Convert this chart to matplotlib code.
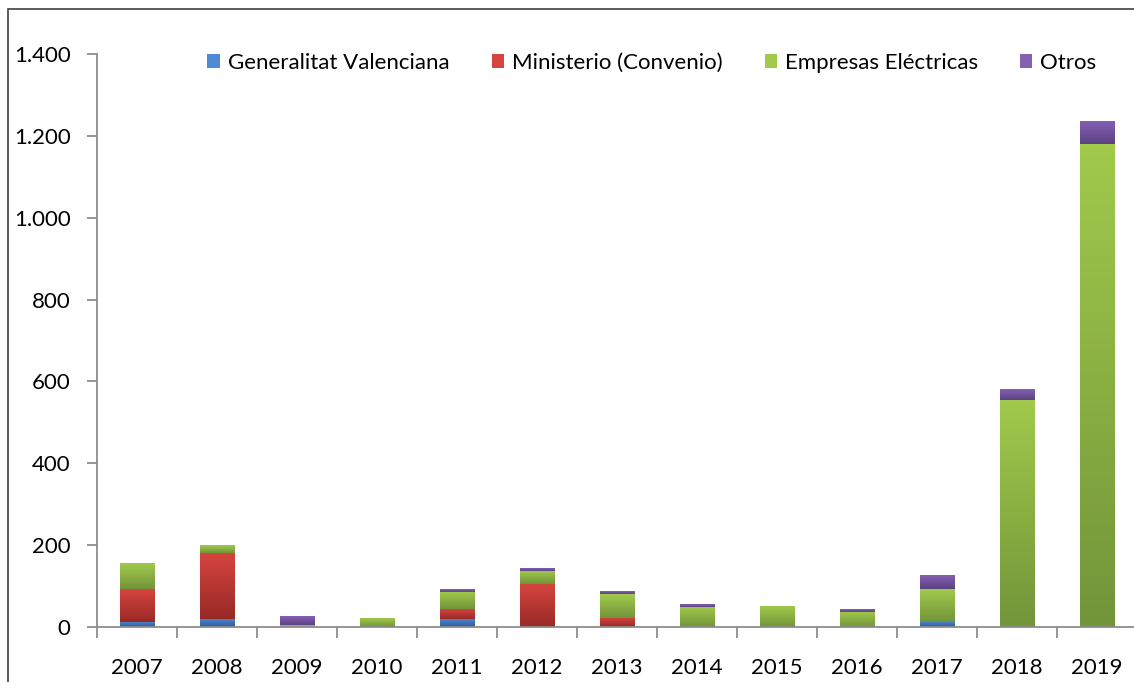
import numpy as np
import matplotlib.pyplot as plt
from matplotlib.colors import LinearSegmentedColormap
from matplotlib.patches import Patch, Rectangle

plt.rcParams['font.family'] = ['Lato', 'DejaVu Sans']

# Data
years = ['2007', '2008', '2009', '2010', '2011', '2012', '2013',
         '2014', '2015', '2016', '2017', '2018', '2019']
generalitat = [13, 20, 0, 0, 20, 0, 0, 0, 0, 0, 13, 0, 0]
ministerio = [80, 161, 0, 0, 24, 105, 23, 0, 0, 0, 0, 0, 0]
empresas = [63, 18, 4, 20, 42, 32, 58, 49, 51, 37, 80, 555, 1180]
otros = [0, 0, 20, 0, 7, 5, 5, 5, 0, 7, 32, 26, 56]

series = [generalitat, ministerio, empresas, otros]
names = ['Generalitat Valenciana', 'Ministerio (Convenio)', 'Empresas Eléctricas', 'Otros']
# (top colour, bottom colour) for Excel-like gradient
grads = [('#4f8ad6', '#2d5c9a'),
         ('#d5443f', '#982a26'),
         ('#a1c94b', '#73953a'),
         ('#8460b2', '#5c4283')]

W, H = 1134, 682
fig = plt.figure(figsize=(W / 100, H / 100), dpi=100)
ax = fig.add_axes([97 / W, 55 / H, 1040 / W, 573 / H])

x = np.arange(len(years))
bw = 0.43
bottom = np.zeros(len(years))
grad = np.linspace(1, 0, 64).reshape(-1, 1)

for vals, (ctop, cbot) in zip(series, grads):
    cmap = LinearSegmentedColormap.from_list('g', [cbot, ctop])
    for i, v in enumerate(vals):
        if v <= 0:
            continue
        y0 = bottom[i]
        # soft shadow
        ax.add_patch(Rectangle((x[i] - bw / 2 + 0.015, y0 - 3), bw, v,
                               facecolor='#000000', alpha=0.05, lw=0, zorder=1))
        ax.imshow(grad, cmap=cmap, extent=[x[i] - bw / 2, x[i] + bw / 2, y0, y0 + v],
                  aspect='auto', interpolation='bicubic', zorder=2)
    bottom += np.array(vals)

ax.set_xlim(-0.5, len(years) - 0.5)
ax.set_ylim(0, 1400)

ax.set_yticks(np.arange(0, 1401, 200))
ax.set_yticklabels(['0', '200', '400', '600', '800', '1.000', '1.200', '1.400'])
ax.set_xticks(x)
ax.set_xticklabels(years)
ax.set_xticks(np.arange(-0.5, len(years), 1), minor=True)
ax.tick_params(axis='x', which='major', length=0, pad=22, labelsize=16)
ax.tick_params(axis='x', which='minor', length=8, color='#8c8c8c', width=1.3)
ax.tick_params(axis='y', length=7, color='#8c8c8c', width=1.3, pad=12, labelsize=16)

for s in ['top', 'right']:
    ax.spines[s].set_visible(False)
for s in ['left', 'bottom']:
    ax.spines[s].set_color('#8c8c8c')
    ax.spines[s].set_linewidth(1.3)

handles = [Patch(facecolor=c[0], edgecolor='none') for c in grads]
fig.legend(handles, names, loc='center', bbox_to_anchor=(652 / W, 1 - 63 / H),
           ncol=4, frameon=False, fontsize=16, handlelength=0.55, handleheight=0.55,
           handletextpad=0.36, columnspacing=1.9)

# outer chart frame
fig.patches.append(Rectangle((8 / W, -0.1), 1.2, 1 - 9 / H + 0.1, transform=fig.transFigure,
                             fill=False, edgecolor='#404040', lw=1.2))

fig.savefig('out.png', dpi=100)
